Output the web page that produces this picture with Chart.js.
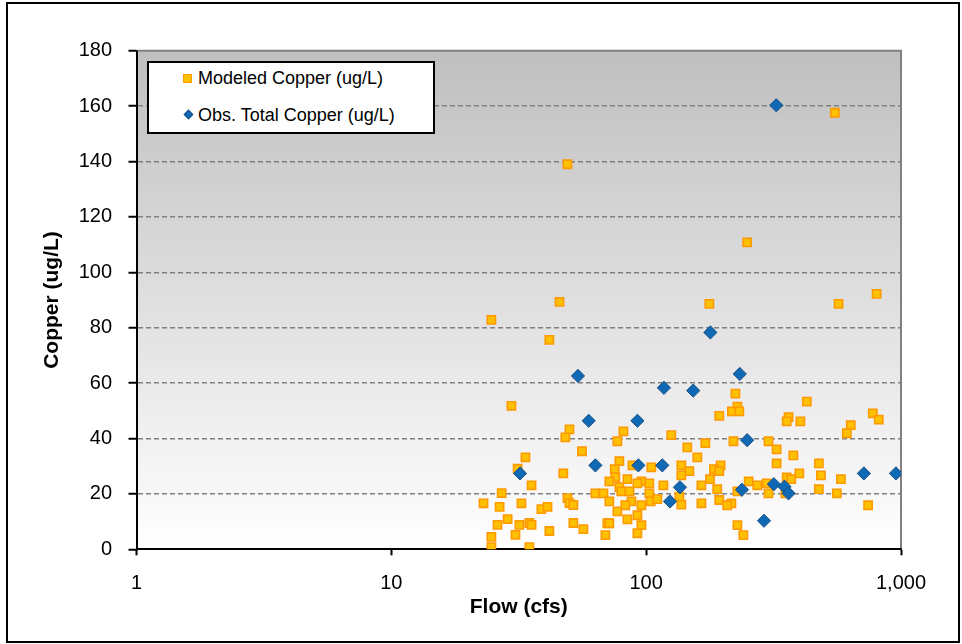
<!DOCTYPE html>
<html>
<head>
<meta charset="utf-8">
<script src="https://cdn.jsdelivr.net/npm/chart.js@4"></script>
<style>
    body { margin: 0; background: #fff; font-family: "Liberation Sans", Arial, sans-serif; }
    #wrap { position: relative; width: 962px; height: 644px; }
    #grafico { position: absolute; left: 0; top: 0; }
    #moldura {
        position: absolute; left: 6px; top: 2px; width: 954px; height: 641px;
        border: 2px solid #000; box-sizing: border-box; pointer-events: none;
    }
    #legenda {
        position: absolute; left: 147px; top: 61px; width: 288px; height: 73px;
        border: 2px solid #000; box-sizing: border-box; background: #fff;
    }
    #legenda .txt { position: absolute; left: 49px; font-size: 18px; line-height: 20px; color: #000; white-space: nowrap; }
    #legenda .sq {
        position: absolute; left: 34px; top: 11px; width: 7px; height: 7px;
        background: #FFC000; border: 1px solid #FF9900;
    }
    #legenda .dm {
        position: absolute; left: 36px; top: 48px; width: 5px; height: 5px;
        background: #0F69B4; border: 0.5px solid #1B4F85; transform: rotate(45deg);
    }
</style>
</head>
<body>
<div id="wrap">
    <canvas id="grafico" width="962" height="644"></canvas>
    <div id="legenda">
        <div class="sq"></div><div class="txt" id="leg1" style="top:5px"></div>
        <div class="dm"></div><div class="txt" id="leg2" style="top:42px"></div>
    </div>
    <div id="moldura"></div>
</div>
<script>
// =======================================
// DATA
// =======================================
const modeledLabel = "Modeled Copper (ug/L)";
const obsLabel = "Obs. Total Copper (ug/L)";

const modeledFlow = [
    49.1, 249, 45.7, 177, 569, 802, 24.7, 41.7, 550,
    29.6, 50, 48.2, 56, 33.6, 31.3, 47.3, 35.5, 27.1, 23, 26.6, 32.4, 49.1, 50, 51.8,
    38.8, 41, 28.6, 26.1, 31.8, 34.8, 35.5, 41.7, 51.8, 56.7, 30.7, 24.7, 24.7, 34.8,
    81.4, 77.1, 125.5, 145, 78.5, 75.3, 88.3, 104.8, 137.4, 147.7, 137.4, 75.7, 71.7,
    84.4, 95.8, 102.9, 92.4, 116.8, 78.5, 63.2, 68, 79.9, 86, 102.9, 71.7, 87.5, 104.2,
    110.6, 135, 137.4, 82.8, 95.8, 77.1, 92.4, 84.4, 70.4, 71.7, 95.8, 69.2, 92.4,
    224, 228, 217, 232, 193.6, 362, 356, 403, 427, 220, 170.7, 302, 325, 378, 158.8,
    325, 196, 184.5, 193.6, 178, 164.7, 252.5, 273, 297, 356, 371, 399, 190, 228, 302,
    352, 193.6, 164.7, 216, 208, 228, 240.6,
    775, 818, 635, 613, 476, 485, 581, 476, 560, 743
];
const modeledCopper = [
    139.0, 110.8, 89.3, 88.6, 88.6, 92.2, 82.8, 75.6, 157.6,
    51.8, 43.3, 40.4, 35.4, 33.2, 29.1, 27.4, 23.1, 20.3, 16.6, 15.3, 16.6, 18.5, 16.7, 16.0,
    14.5, 15.3, 10.9, 8.8, 8.8, 9.5, 8.8, 6.6, 9.5, 7.3, 5.2, 4.5, 0.8, 0.8,
    42.6, 39.0, 41.2, 36.8, 31.8, 28.9, 30.3, 29.6, 30.3, 28.2, 26.7, 26.0, 24.5,
    25.3, 24.5, 23.8, 23.8, 23.1, 22.4, 20.2, 20.2, 20.9, 20.9, 20.2, 17.3, 17.3, 17.3,
    18.1, 19.0, 16.1, 15.9, 15.9, 13.7, 12.3, 10.8, 9.4, 9.4, 8.7, 5.1, 5.8,
    56.2, 51.5, 49.8, 49.8, 48.2, 47.7, 46.2, 46.2, 53.3, 39.0, 38.3, 39.0, 36.1, 33.9, 33.2,
    31.0, 30.3, 28.9, 28.2, 25.3, 23.1, 24.5, 23.1, 23.8, 26.0, 25.3, 27.4, 21.7, 20.9, 20.2,
    20.2, 17.8, 16.6, 16.6, 15.9, 8.7, 5.1,
    49.1, 46.8, 44.8, 41.9, 31.0, 26.7, 25.3, 21.7, 20.2, 15.9
];

const obsFlow = [
    32, 54, 59.5, 63.2, 92.4, 93.2, 117.4, 115.7, 124, 135.7, 153,
    178.6, 233, 237.5, 249, 290, 324, 317, 349, 362, 715, 955
];
const obsCopper = [
    27.4, 62.6, 46.4, 30.3, 46.4, 30.3, 58.3, 30.3, 17.3, 22.4, 57.3,
    78.3, 63.3, 21.5, 39.4, 10.3, 160.3, 23.5, 22.6, 20.2, 27.4, 27.4
];

const flowTicks = [1, 10, 100, 1000];
const copperMin = 0, copperMax = 180, copperStep = 20;

// =======================================
// PAIRS FOR THE SCATTER
// =======================================
function pares(xs, ys) {
    let out = [];
    for (let i = 0; i < xs.length; i++) out.push({ x: xs[i], y: ys[i] });
    return out;
}

// =======================================
// PLOT AREA BACKGROUND + GREY FRAME
// =======================================
const plotArea = {
    id: "plotArea",
    beforeDraw(chart) {
        const { ctx, chartArea: a } = chart;
        let g = ctx.createLinearGradient(0, a.top, 0, a.bottom);
        g.addColorStop(0, "#BFBFBF");
        g.addColorStop(1, "#FFFFFF");
        ctx.save();
        ctx.fillStyle = g;
        ctx.fillRect(a.left, a.top, a.right - a.left, a.bottom - a.top);
        ctx.restore();
    },
    beforeDatasetsDraw(chart) {
        const { ctx, chartArea: a } = chart;
        ctx.save();
        ctx.strokeStyle = "#808080";
        ctx.lineWidth = 2;
        ctx.beginPath();
        ctx.moveTo(a.left + 1, a.top);
        ctx.lineTo(a.right, a.top);
        ctx.lineTo(a.right, a.bottom - 1);
        ctx.stroke();
        ctx.restore();
    }
};

const fonte = "'Liberation Sans', Arial, sans-serif";

// =======================================
// CHART
// =======================================
new Chart(document.getElementById("grafico"), {
    type: "scatter",
    data: {
        datasets: [
            {
                label: modeledLabel,
                data: pares(modeledFlow, modeledCopper),
                pointStyle: "rect",
                pointRadius: 5.8,
                pointHoverRadius: 5.8,
                backgroundColor: "#FFC000",
                borderColor: "#FF9900",
                borderWidth: 1.6,
                order: 1
            },
            {
                label: obsLabel,
                data: pares(obsFlow, obsCopper),
                pointStyle: "rectRot",
                pointRadius: 6.6,
                pointHoverRadius: 6.6,
                backgroundColor: "#0F69B4",
                borderColor: "#1B4F85",
                borderWidth: 1,
                order: 0
            }
        ]
    },
    options: {
        responsive: false,
        animation: false,
        layout: { padding: { left: 0, top: 50.7, right: 61, bottom: 0 } },
        plugins: {
            legend: { display: false },
            tooltip: { enabled: false }
        },
        scales: {
            x: {
                type: "logarithmic",
                min: 1,
                max: 1000,
                afterBuildTicks(scale) {
                    scale.ticks = flowTicks.map(v => ({ value: v }));
                },
                afterFit(scale) { scale.height = 644 - 549.3; },
                ticks: {
                    autoSkip: false,
                    maxRotation: 0,
                    padding: 16.5,
                    color: "#000",
                    font: { family: fonte, size: 20 },
                    callback: v => Number(v).toLocaleString("en-US")
                },
                grid: {
                    display: true,
                    drawOnChartArea: false,
                    drawTicks: true,
                    tickLength: 6,
                    tickColor: "#000",
                    tickWidth: 2
                },
                border: { display: true, color: "#000", width: 2 },
                title: {
                    display: true,
                    text: "Flow (cfs)",
                    color: "#000",
                    font: { family: fonte, size: 21, weight: "bold" },
                    padding: { top: 0, bottom: 23.7 }
                }
            },
            y: {
                min: copperMin,
                max: copperMax,
                afterFit(scale) { scale.width = 136.5; },
                ticks: {
                    stepSize: copperStep,
                    padding: 16.5,
                    color: "#000",
                    font: { family: fonte, size: 20 }
                },
                grid: {
                    color: c => (c.tick && (c.tick.value === copperMin || c.tick.value === copperMax)) ? "rgba(0,0,0,0)" : "#808080",
                    lineWidth: 1.5,
                    drawTicks: true,
                    tickLength: 8,
                    tickColor: "#000",
                    tickWidth: 2,
                    tickBorderDash: []
                },
                border: { display: true, color: "#000", width: 2, dash: [5, 3] },
                title: {
                    display: true,
                    text: "Copper (ug/L)",
                    color: "#000",
                    font: { family: fonte, size: 21, weight: "bold" },
                    padding: { top: 40.1, bottom: 0 }
                }
            }
        }
    },
    plugins: [plotArea]
});

// =======================================
// LEGEND (inside the plot, top left)
// =======================================
document.getElementById("leg1").innerText = modeledLabel;
document.getElementById("leg2").innerText = obsLabel;
</script>
</body>
</html>
